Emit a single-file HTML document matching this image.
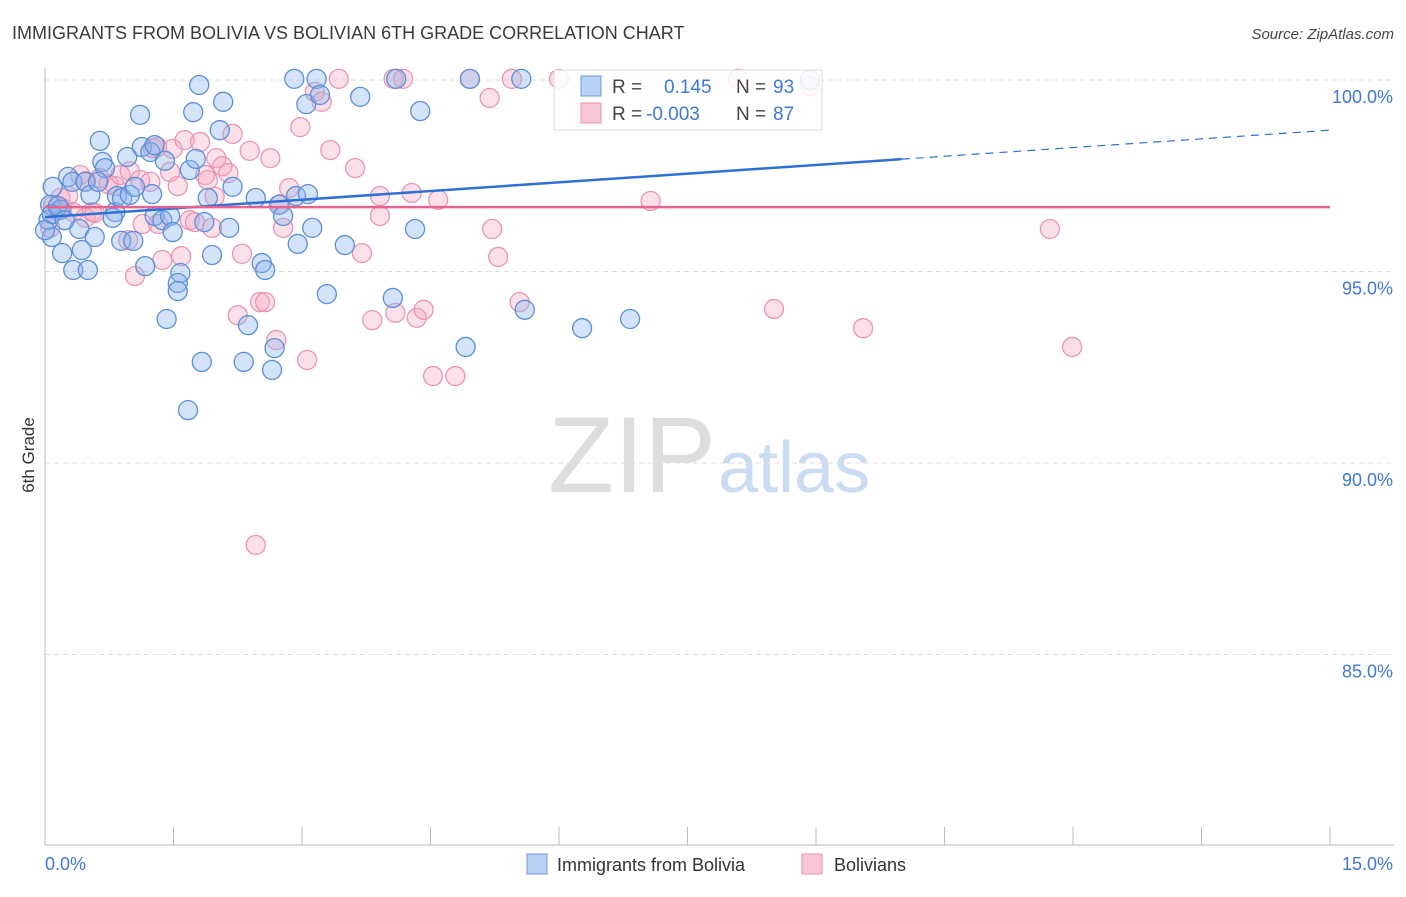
<!DOCTYPE html>
<html><head><meta charset="utf-8"><style>
body{margin:0;background:#fff;font-family:"Liberation Sans",sans-serif;}
svg text{font-family:"Liberation Sans",sans-serif;}
</style></head><body>
<svg id="chart" width="1406" height="892">
<text x="12" y="39" font-size="18" fill="#3a3a3a">IMMIGRANTS FROM BOLIVIA VS BOLIVIAN 6TH GRADE CORRELATION CHART</text>
<text x="1394" y="39" font-size="15" fill="#444" font-style="italic" text-anchor="end">Source: ZipAtlas.com</text>
<text x="34" y="455" font-size="17" fill="#333" transform="rotate(-90 34 455)" text-anchor="middle">6th Grade</text>
<text x="716" y="492" font-size="108" fill="#ddd" text-anchor="end" font-family="Liberation Serif">ZIP</text>
<text x="718" y="492" font-size="72" fill="#c9dcf2">atlas</text>
<g id="grid"></g><g id="axes"></g><g id="pink"></g><g id="blue"></g><g id="trends"></g>
<g>
<rect x="554" y="70" width="268" height="60" fill="#fff" fill-opacity="0.85" stroke="#ddd"/>
<rect x="581" y="76" width="20" height="20" fill="#b9d1f3" stroke="#6a9be0"/>
<text x="612" y="93" font-size="19" fill="#444">R =</text><text x="664" y="93" font-size="19" fill="#3f78d8">0.145</text>
<text x="736" y="93" font-size="19" fill="#444">N =</text><text x="773" y="93" font-size="19" fill="#3f78d8">93</text>
<rect x="581" y="103" width="20" height="20" fill="#f8c6d6" stroke="#e995b2"/>
<text x="612" y="120" font-size="19" fill="#444">R =</text><text x="646" y="120" font-size="19" fill="#3f78d8">-0.003</text>
<text x="736" y="120" font-size="19" fill="#444">N =</text><text x="773" y="120" font-size="19" fill="#3f78d8">87</text>
</g>
<g>
<rect x="527" y="854" width="20" height="20" fill="#b9d1f3" stroke="#6a9be0"/>
<text x="557" y="871" font-size="18" fill="#333">Immigrants from Bolivia</text>
<rect x="802" y="854" width="20" height="20" fill="#f8c6d6" stroke="#e995b2"/>
<text x="834" y="871" font-size="18" fill="#333">Bolivians</text>
</g>
</svg>
<script>
const yTicks=[100,95,90,85];
const yTickLabels=["100.0%","95.0%","90.0%","85.0%"];
const xTicks=[0,1.5,3,4.5,6,7.5,9,10.5,12,13.5,15];
const xEndLabels=["0.0%","15.0%"];
const blueX=[.09,.06,.04,.08,.18,.27,.32,.20,.33,.40,.43,.50,.47,.53,.58,.64,.67,.70,.62,.82,.79,.84,.90,.89,.99,1.03,.96,1.05,1.11,1.13,1.23,1.28,1.25,1.17,1.28,1.37,1.40,1.46,1.49,1.42,1.58,1.55,1.55,1.69,1.76,1.73,1.80,1.83,1.67,1.90,1.86,1.95,2.04,2.08,2.15,2.19,2.32,2.37,2.46,2.53,2.57,2.65,2.68,2.73,2.78,2.91,2.93,2.95,3.07,3.05,3.12,3.17,3.21,3.29,3.50,3.68,4.06,4.10,4.32,4.38,4.91,4.96,5.56,5.60,6.27,6.83,8.93,.08,.15,0,.23];
const blueY=[97.21,96.74,96.34,95.90,96.61,97.47,97.34,95.48,95.04,96.11,95.56,95.04,97.34,97.00,95.90,98.41,97.86,97.70,97.34,96.55,96.40,96.97,96.92,95.80,97.00,95.80,97.99,97.21,99.09,98.25,98.12,98.30,97.02,95.14,96.45,96.34,97.89,96.45,96.03,93.76,94.96,94.70,94.49,97.65,97.94,99.16,99.87,92.64,91.38,96.92,96.29,95.43,98.69,99.43,96.14,97.21,92.64,93.60,96.92,95.22,95.04,92.43,93.00,96.74,96.45,100.03,96.97,95.72,97.02,99.37,96.14,100.03,99.61,94.41,95.69,99.56,94.31,100.03,96.11,99.19,93.03,100.03,100.03,94.00,93.52,93.76,100.0,96.50,96.71,96.08,96.34];
const pinkX=[.06,.09,.18,.20,.27,.33,.41,.47,.55,.58,.64,.74,.82,.88,.97,.99,1.05,1.11,1.14,1.23,1.26,1.31,1.32,1.37,1.46,1.49,1.55,1.59,1.63,1.69,1.75,1.81,1.87,1.90,1.95,2.00,2.07,2.14,2.19,2.25,2.30,2.39,2.46,2.51,2.57,2.63,2.70,2.75,2.78,2.85,2.98,3.06,3.15,3.23,3.33,3.43,3.62,3.70,3.82,3.91,3.91,4.07,4.18,4.09,4.28,4.34,4.42,4.53,4.59,4.79,4.96,5.19,5.22,5.29,5.45,5.54,6.00,7.07,8.09,8.51,9.55,11.73,11.99,8.93,.48,1.98];
const pinkY=[96.14,96.71,96.92,96.66,96.97,96.55,97.52,96.40,96.55,96.53,97.44,97.28,97.23,97.52,95.82,97.62,94.88,97.39,96.24,97.34,98.22,98.25,96.24,95.30,97.60,98.20,97.23,95.40,98.43,96.34,96.29,98.38,97.52,97.39,96.14,97.96,97.75,97.57,98.59,93.86,95.46,98.15,87.86,94.20,94.20,97.96,93.21,96.76,96.14,97.18,98.77,92.69,99.69,99.43,98.17,100.03,97.70,95.48,93.73,96.97,96.45,100.03,100.03,93.92,97.05,93.79,94.00,92.27,96.87,92.27,100.03,99.53,96.11,95.38,100.03,94.20,100.03,96.84,100.03,94.02,93.52,96.11,93.03,99.84,97.36,96.95];
const blueTrend=[96.42,98.69];
const pinkTrend=[96.68,96.68];
const NS="http://www.w3.org/2000/svg";
const X0=45,X1=1330,Y100=80,PPU=38.3;
function sx(v){return X0+(X1-X0)*v/15;}
function sy(v){return Y100+(100-v)*PPU;}
function mk(tag,attrs,parent){const e=document.createElementNS(NS,tag);for(const k in attrs)e.setAttribute(k,attrs[k]);parent.appendChild(e);return e;}
const grid=document.getElementById('grid'),axes=document.getElementById('axes');
yTicks.forEach((t,i)=>{
 const l=mk('line',{x1:X0,x2:1394,y1:sy(t),y2:sy(t),stroke:'#ddd','stroke-dasharray':'5,4'},grid);
 
 
 const tx=mk('text',{x:1393,y:sy(t)+23,'font-size':18,fill:'#3f78d8','text-anchor':'end'},axes);
 tx.textContent=yTickLabels[i];
 
 
});
const ya=mk('line',{x1:X0,x2:X0,y1:68,y2:845,stroke:'#bbb'},axes);


const xa=mk('line',{x1:X0,x2:1394,y1:845,y2:845,stroke:'#bbb'},axes);


xTicks.forEach(t=>{
 const l=mk('line',{x1:sx(t),x2:sx(t),y1:827,y2:845,stroke:'#bbb'},axes);
 
 
});
const xl0=mk('text',{x:45,y:870,'font-size':18,fill:'#3f78d8'},axes);xl0.textContent=xEndLabels[0];


const xl1=mk('text',{x:1393,y:870,'font-size':18,fill:'#3f78d8','text-anchor':'end'},axes);xl1.textContent=xEndLabels[1];


function pts(xs,ys,g,fill,stroke,name){
 xs.forEach((x,i)=>{
  const c=mk('circle',{cx:sx(x),cy:sy(ys[i]),r:9.5,fill:fill,stroke:stroke,'stroke-width':1.3},g);
  
  
 });
}
pts(pinkX,pinkY,document.getElementById('pink'),'rgba(245,165,192,0.35)','#e995b2','bolivians-point');
pts(blueX,blueY,document.getElementById('blue'),'rgba(140,182,238,0.38)','#5b8fd9','bolivia-point');
const tr=document.getElementById('trends');
function ty(a,x){return a[0]+(a[1]-a[0])*x/15;}
const b1=mk('line',{x1:sx(0),y1:sy(ty(blueTrend,0)),x2:sx(10),y2:sy(ty(blueTrend,10)),stroke:'#2f6fd6','stroke-width':2.5},tr);


const b2=mk('line',{x1:sx(10),y1:sy(ty(blueTrend,10)),x2:sx(15),y2:sy(ty(blueTrend,15)),stroke:'#2f6fd6','stroke-width':1.2,'stroke-dasharray':'8,6'},tr);


const p1=mk('line',{x1:sx(0),y1:sy(pinkTrend[0]),x2:sx(15),y2:sy(pinkTrend[1]),stroke:'#e8628e','stroke-width':2.5},tr);


</script>
</body></html>
